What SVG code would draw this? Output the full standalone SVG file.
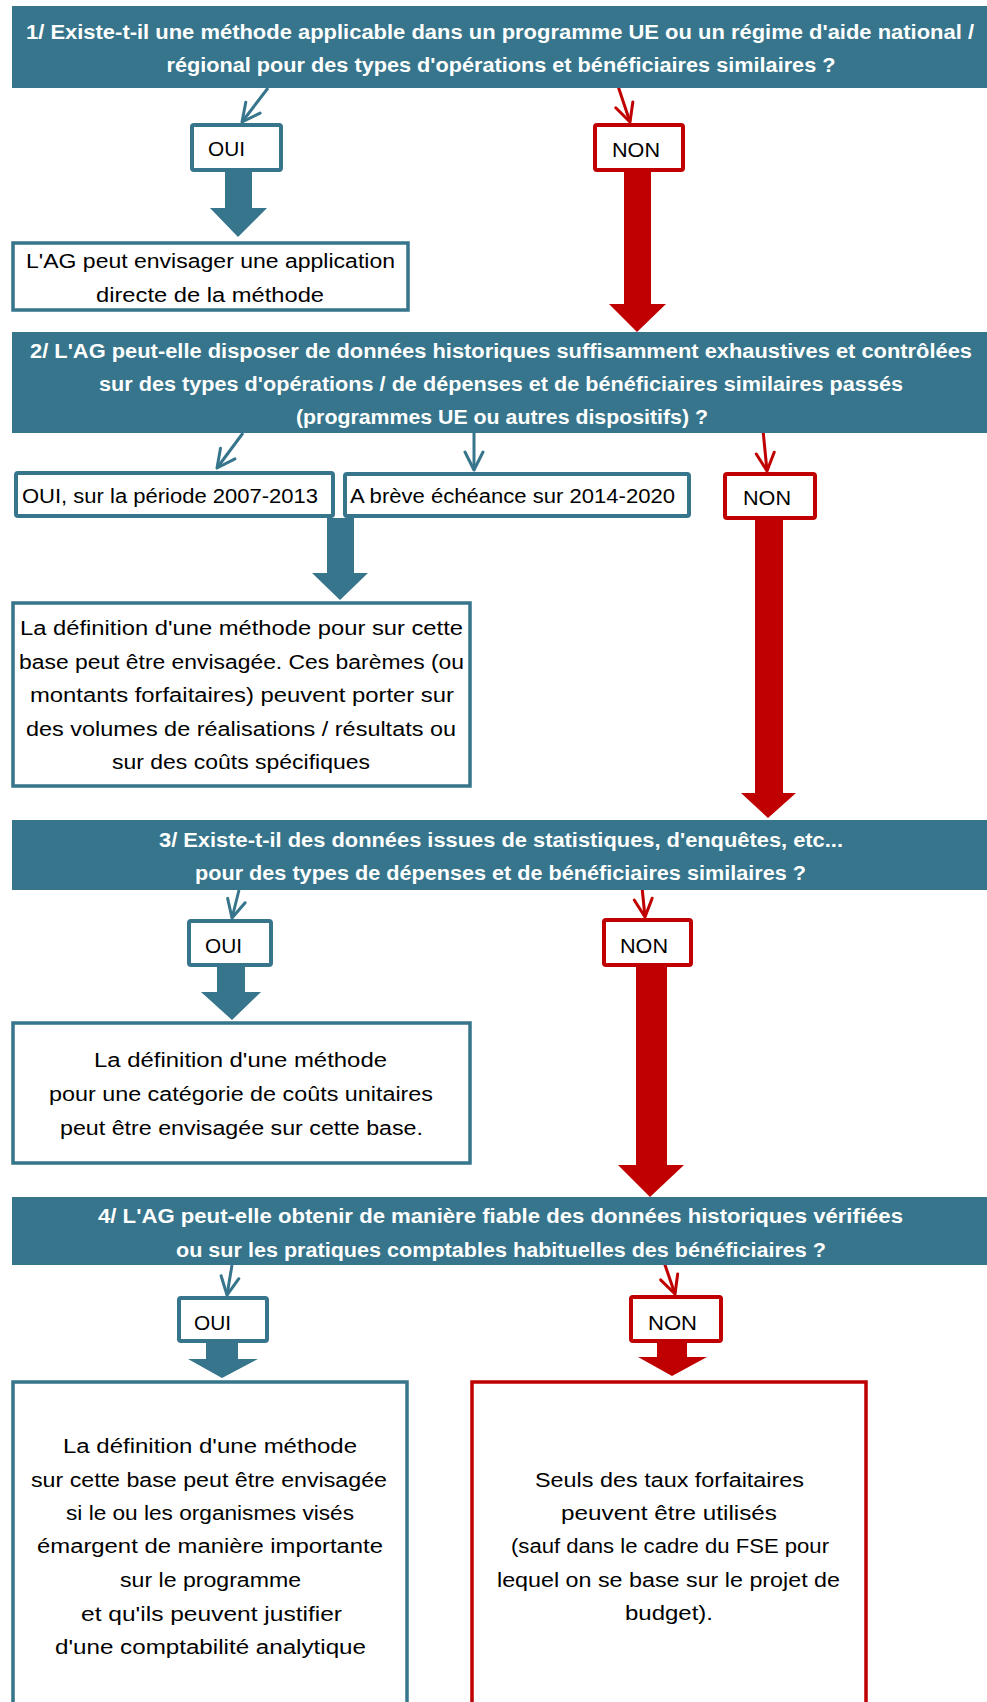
<svg xmlns="http://www.w3.org/2000/svg" width="987" height="1702" viewBox="0 0 987 1702">
<style>
.hdr{fill:#36758B}
.ht{font-family:"Liberation Sans",Arial,sans-serif;font-weight:bold;font-size:20px;fill:#fff;text-anchor:middle}
.bt{font-family:"Liberation Sans",Arial,sans-serif;font-size:20px;fill:#000;text-anchor:middle}
.lt{font-family:"Liberation Sans",Arial,sans-serif;font-size:20px;fill:#000}
.sb{fill:#fff;stroke:#36758B;stroke-width:4}
.sr{fill:#fff;stroke:#C00000;stroke-width:4}
.rb{fill:#fff;stroke:#36758B;stroke-width:3.5}
.rr{fill:#fff;stroke:#C00000;stroke-width:3.5}
.lb{fill:none;stroke:#36758B;stroke-width:3;marker-end:url(#mb)}
.lr{fill:none;stroke:#C00000;stroke-width:3;marker-end:url(#mr)}
.fb{fill:#36758B}
.fr{fill:#C00000}
</style>
<defs>
<marker id="mb" markerUnits="userSpaceOnUse" viewBox="-21 -12 23 24" markerWidth="23" markerHeight="24" refX="0" refY="0" orient="auto">
<path d="M-18,-9 L0,0 L-18,9" fill="none" stroke="#36758B" stroke-width="3" stroke-linecap="round" stroke-linejoin="round"/>
</marker>
<marker id="mr" markerUnits="userSpaceOnUse" viewBox="-21 -12 23 24" markerWidth="23" markerHeight="24" refX="0" refY="0" orient="auto">
<path d="M-18,-9 L0,0 L-18,9" fill="none" stroke="#C00000" stroke-width="3" stroke-linecap="round" stroke-linejoin="round"/>
</marker>
</defs>
<rect width="987" height="1702" fill="#fff"/>

<g id="connectors">
<line class="lb" x1="268" y1="88" x2="242" y2="122"/>
<line class="lr" x1="618" y1="86" x2="630" y2="122"/>
<line class="lb" x1="243" y1="433" x2="217" y2="468"/>
<line class="lb" x1="474" y1="433" x2="474" y2="470"/>
<line class="lr" x1="763" y1="430" x2="767" y2="471"/>
<line class="lb" x1="239" y1="890" x2="232" y2="918"/>
<line class="lr" x1="642" y1="887" x2="645" y2="917"/>
<line class="lb" x1="232" y1="1265" x2="227" y2="1295"/>
<line class="lr" x1="664" y1="1262" x2="675" y2="1294"/>
<polygon class="fb" points="225,172 252,172 252,208 267,208 238,237 210,208 225,208"/>
<polygon class="fr" points="624,172 651,172 651,304 666,304 637,332 609,304 624,304"/>
<polygon class="fb" points="327,518 354,518 354,573 368,573 340,600 312,573 327,573"/>
<polygon class="fr" points="755,520 783,520 783,793 796,793 768,818 741,793 755,793"/>
<polygon class="fb" points="217,967 245,967 245,992 261,992 232,1020 201,992 217,992"/>
<polygon class="fr" points="636,967 667,967 667,1165 684,1165 650,1197 618,1165 636,1165"/>
<polygon class="fb" points="206,1343 238,1343 238,1359 258,1359 222,1378 188,1359 206,1359"/>
<polygon class="fr" points="657,1343 687,1343 687,1357 707,1357 672,1376 638,1357 657,1357"/>
</g>

<g id="q1">
<rect class="hdr" x="12" y="6" width="975" height="82"/>
<text class="ht" x="500" y="39" textLength="948" lengthAdjust="spacingAndGlyphs">1/ Existe-t-il une méthode applicable dans un programme UE ou un régime d'aide national /</text>
<text class="ht" x="501" y="72" textLength="669" lengthAdjust="spacingAndGlyphs">régional pour des types d'opérations et bénéficiaires similaires ?</text>
</g>
<g id="q1-oui">
<rect class="sb" x="192" y="125" width="89" height="45" rx="2"/>
<text class="lt" x="208" y="156" textLength="37" lengthAdjust="spacingAndGlyphs">OUI</text>
</g>
<g id="q1-non">
<rect class="sr" x="595" y="125" width="88" height="45" rx="2"/>
<text class="lt" x="612" y="157" textLength="48" lengthAdjust="spacingAndGlyphs">NON</text>
</g>
<g id="r1">
<rect class="rb" x="13" y="243" width="395" height="67"/>
<text class="bt" x="210.5" y="268" textLength="369" lengthAdjust="spacingAndGlyphs">L'AG peut envisager une application</text>
<text class="bt" x="210" y="302" textLength="228" lengthAdjust="spacingAndGlyphs">directe de la méthode</text>
</g>

<g id="q2">
<rect class="hdr" x="12" y="332" width="975" height="101"/>
<text class="ht" x="501" y="358" textLength="942" lengthAdjust="spacingAndGlyphs">2/ L'AG peut-elle disposer de données historiques suffisamment exhaustives et contrôlées</text>
<text class="ht" x="501" y="391" textLength="804" lengthAdjust="spacingAndGlyphs">sur des types d'opérations / de dépenses et de bénéficiaires similaires passés</text>
<text class="ht" x="502" y="424" textLength="412" lengthAdjust="spacingAndGlyphs">(programmes UE ou autres dispositifs) ?</text>
</g>
<g id="q2-oui">
<rect class="sb" x="16" y="473" width="317" height="43" rx="2"/>
<text class="lt" x="22" y="503" textLength="296" lengthAdjust="spacingAndGlyphs">OUI, sur la période 2007-2013</text>
</g>
<g id="q2-breve">
<rect class="sb" x="345" y="474" width="344" height="42" rx="2"/>
<text class="lt" x="350" y="503" textLength="325" lengthAdjust="spacingAndGlyphs">A brève échéance sur 2014-2020</text>
</g>
<g id="q2-non">
<rect class="sr" x="725" y="474" width="90" height="44" rx="2"/>
<text class="lt" x="743" y="505" textLength="48" lengthAdjust="spacingAndGlyphs">NON</text>
</g>
<g id="r2">
<rect class="rb" x="13" y="603" width="457" height="183"/>
<text class="bt" x="241.5" y="635" textLength="443" lengthAdjust="spacingAndGlyphs">La définition d'une méthode pour sur cette</text>
<text class="bt" x="241.5" y="669" textLength="445" lengthAdjust="spacingAndGlyphs">base peut être envisagée. Ces barèmes (ou</text>
<text class="bt" x="242" y="702" textLength="424" lengthAdjust="spacingAndGlyphs">montants forfaitaires) peuvent porter sur</text>
<text class="bt" x="241" y="736" textLength="430" lengthAdjust="spacingAndGlyphs">des volumes de réalisations / résultats ou</text>
<text class="bt" x="241" y="769" textLength="258" lengthAdjust="spacingAndGlyphs">sur des coûts spécifiques</text>
</g>

<g id="q3">
<rect class="hdr" x="12" y="820" width="975" height="70"/>
<text class="ht" x="501" y="847" textLength="684" lengthAdjust="spacingAndGlyphs">3/ Existe-t-il des données issues de statistiques, d'enquêtes, etc...</text>
<text class="ht" x="500.5" y="880" textLength="611" lengthAdjust="spacingAndGlyphs">pour des types de dépenses et de bénéficiaires similaires ?</text>
</g>
<g id="q3-oui">
<rect class="sb" x="189" y="921" width="82" height="44" rx="2"/>
<text class="lt" x="205" y="953" textLength="37" lengthAdjust="spacingAndGlyphs">OUI</text>
</g>
<g id="q3-non">
<rect class="sr" x="604" y="920" width="87" height="45" rx="2"/>
<text class="lt" x="620" y="953" textLength="48" lengthAdjust="spacingAndGlyphs">NON</text>
</g>
<g id="r3">
<rect class="rb" x="13" y="1023" width="457" height="140"/>
<text class="bt" x="240.5" y="1067" textLength="293" lengthAdjust="spacingAndGlyphs">La définition d'une méthode</text>
<text class="bt" x="241" y="1101" textLength="384" lengthAdjust="spacingAndGlyphs">pour une catégorie de coûts unitaires</text>
<text class="bt" x="241.5" y="1135" textLength="363" lengthAdjust="spacingAndGlyphs">peut être envisagée sur cette base.</text>
</g>

<g id="q4">
<rect class="hdr" x="12" y="1197" width="975" height="68"/>
<text class="ht" x="500.5" y="1223" textLength="805" lengthAdjust="spacingAndGlyphs">4/ L'AG peut-elle obtenir de manière fiable des données historiques vérifiées</text>
<text class="ht" x="501" y="1257" textLength="650" lengthAdjust="spacingAndGlyphs">ou sur les pratiques comptables habituelles des bénéficiaires ?</text>
</g>
<g id="q4-oui">
<rect class="sb" x="179" y="1298" width="88" height="43" rx="2"/>
<text class="lt" x="194" y="1330" textLength="37" lengthAdjust="spacingAndGlyphs">OUI</text>
</g>
<g id="q4-non">
<rect class="sr" x="631" y="1297" width="90" height="44" rx="2"/>
<text class="lt" x="648" y="1330" textLength="49" lengthAdjust="spacingAndGlyphs">NON</text>
</g>
<g id="r4-oui">
<rect class="rb" x="13" y="1382" width="394" height="360"/>
<text class="bt" x="210" y="1453" textLength="294" lengthAdjust="spacingAndGlyphs">La définition d'une méthode</text>
<text class="bt" x="209" y="1487" textLength="356" lengthAdjust="spacingAndGlyphs">sur cette base peut être envisagée</text>
<text class="bt" x="210" y="1520" textLength="288" lengthAdjust="spacingAndGlyphs">si le ou les organismes visés</text>
<text class="bt" x="210" y="1553" textLength="346" lengthAdjust="spacingAndGlyphs">émargent de manière importante</text>
<text class="bt" x="210.5" y="1587" textLength="181" lengthAdjust="spacingAndGlyphs">sur le programme</text>
<text class="bt" x="211.5" y="1621" textLength="261" lengthAdjust="spacingAndGlyphs">et qu'ils peuvent justifier</text>
<text class="bt" x="210.5" y="1654" textLength="311" lengthAdjust="spacingAndGlyphs">d'une comptabilité analytique</text>
</g>
<g id="r4-non">
<rect class="rr" x="472" y="1382" width="394" height="360"/>
<text class="bt" x="669.5" y="1487" textLength="269" lengthAdjust="spacingAndGlyphs">Seuls des taux forfaitaires</text>
<text class="bt" x="669" y="1520" textLength="216" lengthAdjust="spacingAndGlyphs">peuvent être utilisés</text>
<text class="bt" x="670" y="1553" textLength="318" lengthAdjust="spacingAndGlyphs">(sauf dans le cadre du FSE pour</text>
<text class="bt" x="668.5" y="1587" textLength="343" lengthAdjust="spacingAndGlyphs">lequel on se base sur le projet de</text>
<text class="bt" x="669" y="1620" textLength="88" lengthAdjust="spacingAndGlyphs">budget).</text>
</g>
</svg>
